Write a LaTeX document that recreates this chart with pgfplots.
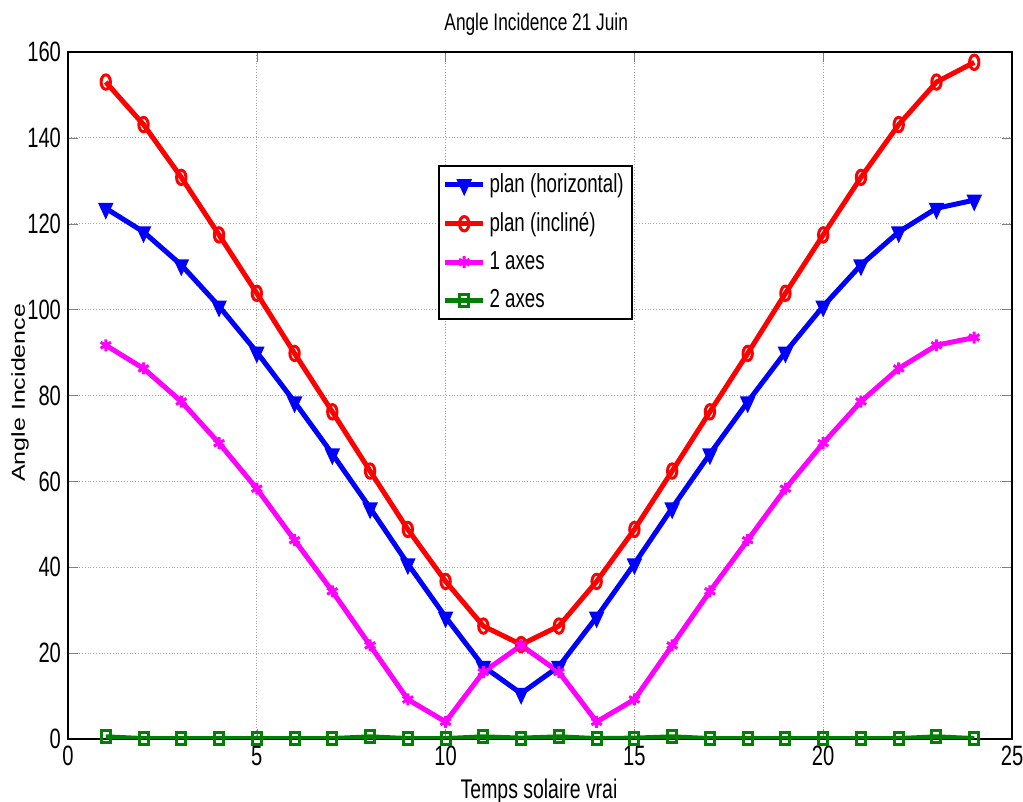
\documentclass[border=0pt]{standalone}
\usepackage{fontspec}
\setmainfont{Liberation Sans}[FakeStretch=0.72]
\newfontfamily\ylabfont{Liberation Sans}
\usepackage{pgfplots}
\pgfplotsset{compat=1.18}
\definecolor{mblue}{RGB}{0,0,255}
\definecolor{mred}{RGB}{255,0,0}
\definecolor{mmag}{RGB}{255,0,255}
\definecolor{mgreen}{RGB}{0,128,0}
\begin{document}
\begin{tikzpicture}
\begin{axis}[
  scale only axis,
  width=472pt, height=343.5pt,
  xmin=0, xmax=25, ymin=0, ymax=160,
  xtick={0,5,...,25}, ytick={0,20,...,160},
  /pgf/number format/assume math mode=true,
  tick label style={font=\fontsize{14}{16}\selectfont},
  tick align=inside,
  major tick length=5pt,
  grid=major,
  grid style={gray!70, densely dotted, line width=0.4pt},
  axis line style={black, line width=0.6pt},
  title={Angle Incidence 21 Juin},
  title style={font=\fontsize{12}{14}\selectfont, at={(axis description cs:0.496,1.0145)}, anchor=base},
  xlabel={Temps solaire vrai},
  xlabel style={font=\fontsize{13.5}{15}\selectfont, at={(axis description cs:0.499,-0.0873)}, anchor=base},
  ylabel={Angle Incidence},
  ylabel style={font=\ylabfont\fontsize{12.5}{15}\selectfont, at={(axis description cs:-0.0508,0.504)}, anchor=center, yscale=0.75},
  legend style={at={(axis cs:9.8,133.7)}, anchor=north west, draw=black, line width=0.9pt,
    font=\fontsize{13}{15}\selectfont, inner sep=2pt, row sep=4.5pt},
  legend cell align=left,
  legend image code/.code={\draw[mark repeat=2,mark phase=2] plot coordinates {(0cm,0cm) (0.33cm,0cm) (0.66cm,0cm)};},
  every axis plot/.append style={line width=2.5pt},
]
\addplot[color=mblue, mark=triangle*, mark size=4.5pt, mark options={solid, rotate=180, xscale=0.8, line width=1pt, fill=mblue}] coordinates {
(1,123.6) (2,118.1) (3,110.4) (4,100.8) (5,90.1) (6,78.5) (7,66.4) (8,53.8) (9,40.8) (10,28.4) (11,16.9) (12,10.6)
(13,16.9) (14,28.4) (15,40.8) (16,53.8) (17,66.4) (18,78.5) (19,90.1) (20,100.8) (21,110.4) (22,118.1) (23,123.6) (24,125.5)};
\addlegendentry{plan (horizontal)}
\addplot[color=mred, mark=o, mark size=3.6pt, mark options={solid, xscale=0.65, line width=1.5pt}] coordinates {
(1,153.0) (2,143.1) (3,130.8) (4,117.4) (5,103.8) (6,89.8) (7,76.2) (8,62.4) (9,48.8) (10,36.7) (11,26.3) (12,22.0)
(13,26.3) (14,36.7) (15,48.8) (16,62.4) (17,76.2) (18,89.8) (19,103.8) (20,117.4) (21,130.8) (22,143.1) (23,153.0) (24,157.6)};
\addlegendentry{plan (inclin\'e)}
\addplot[color=mmag, mark=asterisk, mark size=3pt, mark options={solid, line width=1.5pt}] coordinates {
(1,91.7) (2,86.3) (3,78.6) (4,68.9) (5,58.3) (6,46.3) (7,34.4) (8,21.8) (9,9.2) (10,4.0) (11,15.6) (12,21.8)
(13,15.6) (14,4.0) (15,9.2) (16,21.8) (17,34.4) (18,46.3) (19,58.3) (20,68.9) (21,78.6) (22,86.3) (23,91.7) (24,93.5)};
\addlegendentry{1 axes}
\addplot[color=mgreen, mark=square, mark size=3pt, mark options={solid, xscale=0.75, line width=1.5pt}] coordinates {
(1,0.5) (2,0.1) (3,0.1) (4,0.1) (5,0.1) (6,0.1) (7,0.1) (8,0.5) (9,0.1) (10,0.1) (11,0.5) (12,0.2)
(13,0.5) (14,0.1) (15,0.2) (16,0.5) (17,0.1) (18,0.1) (19,0.1) (20,0.1) (21,0.1) (22,0.1) (23,0.5) (24,0.1)};
\addlegendentry{2 axes}
\end{axis}
\pgfresetboundingbox
\path[use as bounding box] (-34pt,-31.5pt) rectangle (477.5pt,369.5pt);
\end{tikzpicture}
\end{document}
